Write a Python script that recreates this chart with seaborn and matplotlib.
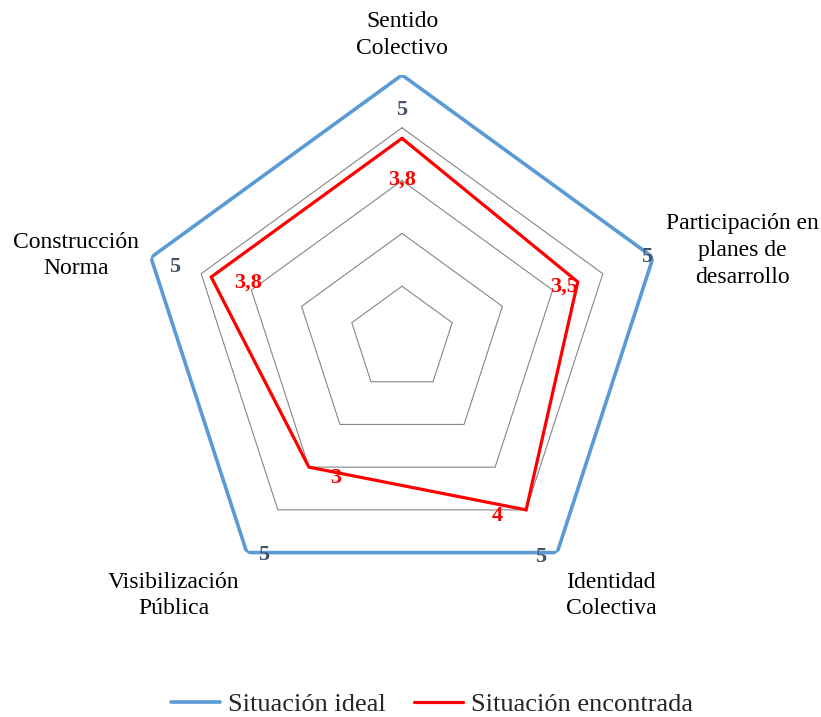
import numpy as np
import pandas as pd
import matplotlib
matplotlib.use("Agg")
import matplotlib.pyplot as plt
import seaborn as sns

# data
categories = ["Sentido\nColectivo", "Participación en\nplanes de\ndesarrollo",
              "Identidad\nColectiva", "Visibilización\nPública", "Construcción\nNorma"]
ideal = [5, 5, 5, 5, 5]
encontrada = [3.8, 3.5, 4, 3, 3.8]
ideal_labels = ["5", "5", "5", "5", "5"]
encontrada_labels = ["3,8", "3,5", "4", "3", "3,8"]
grid_levels = [1, 2, 3, 4, 5]

sns.set_theme(style="white")
plt.rcParams["font.family"] = ["Liberation Serif", "DejaVu Serif"]

W, H = 821, 717
fig = plt.figure(figsize=(W / 100, H / 100), dpi=100)
cx, cy, R = 402, 339, 264
ax = fig.add_axes([(cx - R) / W, (H - cy - R) / H, 2 * R / W, 2 * R / H], projection="polar")
ax.set_theta_offset(np.pi / 2)
ax.set_theta_direction(-1)
ax.set_ylim(0, 5)
ax.grid(False)
ax.spines["polar"].set_visible(False)
ax.set_facecolor("none")

n = len(categories)
theta = np.linspace(0, 2 * np.pi, n, endpoint=False)
theta_closed = np.append(theta, theta[0])

# polygon grid
for lv in grid_levels[:-1]:
    ax.plot(theta_closed, [lv] * (n + 1), color="#868686", lw=0.8, zorder=1)

df = pd.DataFrame({
    "theta": np.concatenate([theta_closed, theta_closed]),
    "valor": ideal + [ideal[0]] + encontrada + [encontrada[0]],
    "serie": ["Situación ideal"] * (n + 1) + ["Situación encontrada"] * (n + 1),
})
sns.lineplot(data=df, x="theta", y="valor", hue="serie", sort=False, estimator=None,
             ax=ax, palette={"Situación ideal": "#5B9BD5", "Situación encontrada": "#FF0000"},
             linewidth=2.6, legend=False, zorder=3)
ax.lines[-1].set_linewidth(2.3)
for ln in ax.lines[-2:]:
    ln.set_solid_joinstyle("miter")
ax.set_xlabel("")
ax.set_ylabel("")
ax.set_xticks([])
ax.set_yticks([])
ax.set_ylim(0, 5)

# data labels
blue_off = [(0, -35), (-6, 0), (-17, -4), (17, -2), (24, -10)]
red_off = [(0, -41), (-14, -5), (-29, -6), (27, -11), (37, -6)]
for i in range(n):
    ax.annotate(ideal_labels[i], (theta[i], ideal[i]), xytext=blue_off[i],
                textcoords="offset pixels", ha="center", va="center",
                fontsize=16, fontweight="bold", color="#44546A", zorder=5)
    ax.annotate(encontrada_labels[i], (theta[i], encontrada[i]), xytext=red_off[i],
                textcoords="offset pixels", ha="center", va="center",
                fontsize=16, fontweight="bold", color="#FF0000", zorder=5)

# category labels
cat_off = [(0, 40), (89, 7), (54, -43), (-73, -43), (-75, 2)]
for i in range(n):
    ax.annotate(categories[i], (theta[i], 5), xytext=cat_off[i],
                textcoords="offset pixels", ha="center", va="center",
                fontsize=17, color="black", linespacing=1.35, annotation_clip=False)

handles = [plt.Line2D([], [], color="#5B9BD5", lw=2.6),
           plt.Line2D([], [], color="#FF0000", lw=2.3)]
fig.legend(handles, ["Situación ideal", "Situación encontrada"], loc="center",
           bbox_to_anchor=(432 / W, 1 - 704 / H), ncol=2, frameon=False,
           fontsize=19, handlelength=1.85, columnspacing=1.1, handletextpad=0.3)

fig.savefig("out.png", dpi=100)
